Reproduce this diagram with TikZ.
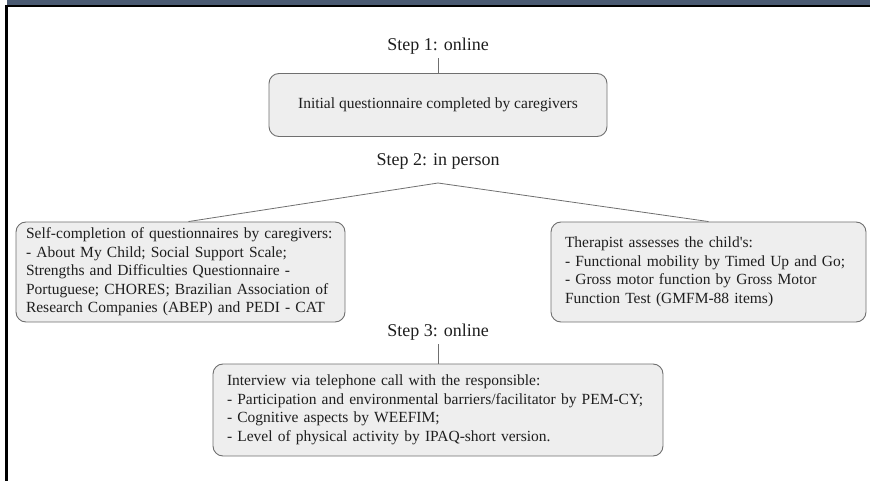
\documentclass[tikz,border=0pt]{standalone}
\usepackage{fontspec}
\setmainfont{Liberation Serif}
\usepackage{tikz}
\usetikzlibrary{positioning}
\usepackage{xcolor}
\definecolor{flowInk}{HTML}{1E1E1E}
\definecolor{flowEdge}{HTML}{6F6F6F}
\definecolor{flowFill}{HTML}{EEEEEE}
\definecolor{flowBar}{HTML}{4A5A72}
\tikzset{
  stagebox/.style = {rounded corners=10pt, draw=flowEdge, line width=0.9pt,
                     fill=flowFill, align=left, inner xsep=10pt, text=flowInk,
                     font=\fontsize{15.5}{18.5}\selectfont},
  steplbl/.style  = {font=\fontsize{18}{21}\selectfont, text=flowInk,
                     inner sep=2pt, text depth=6pt},
  link/.style     = {line width=0.8pt, draw=flowEdge},
}

\begin{document}
\begin{tikzpicture}[x=1pt, y=1pt]
  \useasboundingbox (0,0) rectangle (870,-481);
  \fill[flowBar] (7,0) rectangle (870,-5);
  \draw[line width=2pt] (5,-6) -- (870,-6);
  \draw[line width=3pt] (6.5,-5) -- (6.5,-481);

  \node[steplbl] (step1) at (438,-47) {Step 1: online};
  \node[stagebox, align=center, minimum width=338pt, minimum height=63pt]
    (initq) at (438,-105) {Initial questionnaire completed by caregivers};
  \draw[link] (step1.south) -- (initq.north);

  \node[steplbl] (step2) at (438,-163) {Step 2: in person};
  \coordinate (split) at (438,-183);
  \node[stagebox, text width=309pt, minimum height=100pt] (selfq) at (180.5,-272)
    {Self-completion of questionnaires by caregivers:\\
     - About My Child; Social Support Scale;\\
     Strengths and Difficulties Questionnaire -\\
     Portuguese; CHORES; Brazilian Association of\\
     Research Companies (ABEP) and PEDI - CAT};
  \node[stagebox, text width=287pt, inner xsep=14pt, minimum height=100pt]
    (therap) at (708.5,-272)
    {Therapist assesses the child\textquotesingle s:\\
     - Functional mobility by Timed Up and Go;\\
     - Gross motor function by Gross Motor\\
     Function Test (GMFM-88 items)};
  \draw[link] ([xshift=8pt]selfq.north) -- (split) -- (therap.north);

  \node[steplbl] (step3) at (438,-333) {Step 3: online};
  \node[stagebox, text width=422pt, inner xsep=14pt, minimum height=92pt]
    (phone) at (438,-410)
    {Interview via telephone call with the responsible:\\
     - Participation and environmental barriers/facilitator by PEM-CY;\\
     - Cognitive aspects by WEEFIM;\\
     - Level of physical activity by IPAQ-short version.};
  \draw[link] (step3.south) -- (phone.north);
\end{tikzpicture}
\end{document}
